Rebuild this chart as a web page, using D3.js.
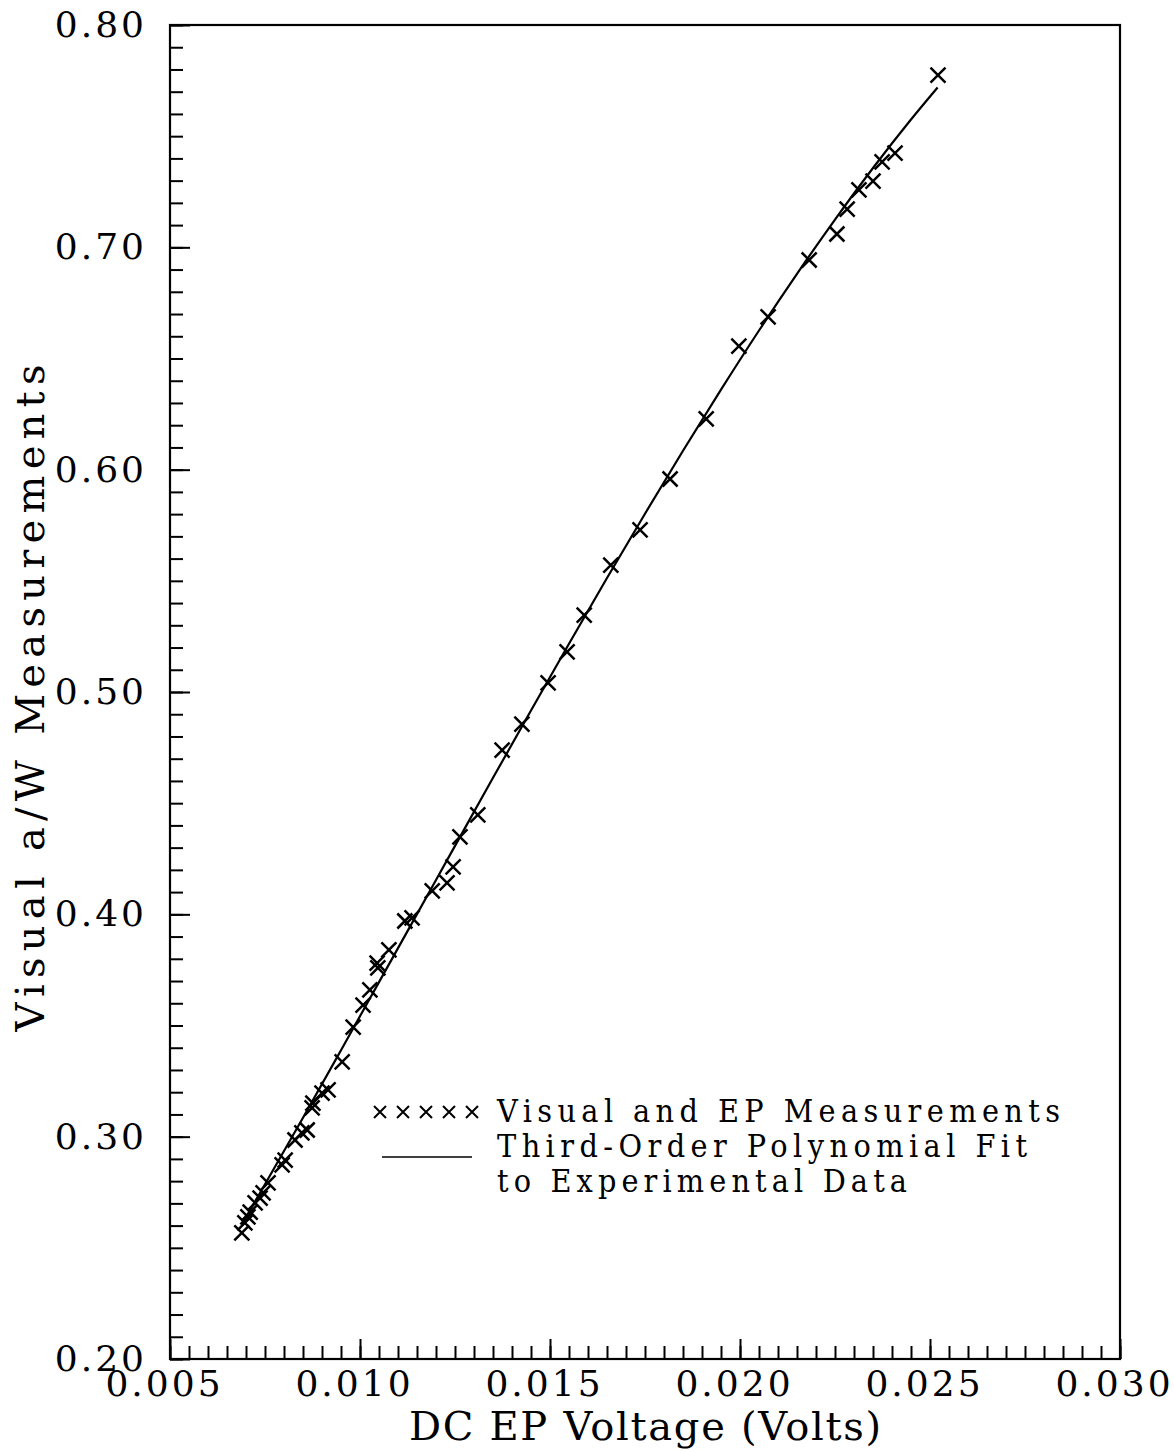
<!DOCTYPE html>
<html>
<head>
<meta charset="utf-8">
<script src="https://cdn.jsdelivr.net/npm/d3@7"></script>
<style>
  body { margin: 0; background: #fff; }
  svg { display: block; }
</style>
</head>
<body>
<svg id="chart" width="1174" height="1451"></svg>
<script>
// Measured points: DC EP voltage (V) vs. visual crack length ratio a/W
const voltage = [
  0.00689, 0.00697, 0.00705, 0.00711, 0.00724, 0.00737, 0.00745, 0.00758,
  0.00795, 0.00803, 0.00829, 0.00847, 0.00861, 0.00874, 0.00876, 0.00900,
  0.00916, 0.00953, 0.00982, 0.01008, 0.01026, 0.01045, 0.01047, 0.01076,
  0.01118, 0.01137, 0.01190, 0.01229, 0.01245, 0.01263, 0.01310, 0.01374,
  0.01426, 0.01495, 0.01545, 0.01590, 0.01660, 0.01737, 0.01816, 0.01911,
  0.01997, 0.02074, 0.02182, 0.02255, 0.02282, 0.02313, 0.02350, 0.02374,
  0.02408, 0.02521
];
const aOverW = [
  0.2567, 0.2612, 0.2639, 0.2661, 0.2702, 0.2724, 0.2747, 0.2792,
  0.2873, 0.2895, 0.2985, 0.3017, 0.3030, 0.3129, 0.3151, 0.3196,
  0.3210, 0.3336, 0.3493, 0.3592, 0.3660, 0.3781, 0.3759, 0.3840,
  0.3970, 0.3984, 0.4105, 0.4141, 0.4213, 0.4348, 0.4447, 0.4739,
  0.4856, 0.5041, 0.5180, 0.5346, 0.5571, 0.5729, 0.5958, 0.6228,
  0.6556, 0.6687, 0.6943, 0.7060, 0.7172, 0.7258, 0.7298, 0.7384,
  0.7424, 0.7775
];

// Third-order polynomial fit curve, sampled along the voltage range
const fitVoltage = [
  0.0069, 0.0075, 0.0085, 0.0095, 0.0105, 0.0115, 0.0125, 0.0135, 0.0145,
  0.0155, 0.0165, 0.0175, 0.0185, 0.0195, 0.0205, 0.0215, 0.0225, 0.0235,
  0.0245, 0.0252
];
const fitAOverW = [
  0.2608, 0.2786, 0.3085, 0.3389, 0.3695, 0.4001, 0.4308, 0.4614, 0.4917,
  0.5217, 0.5513, 0.5802, 0.6085, 0.6360, 0.6626, 0.6881, 0.7125, 0.7357,
  0.7575, 0.7719
];

const xMajorTicks = [0.005, 0.010, 0.015, 0.020, 0.025, 0.030];
const yMajorTicks = [0.20, 0.30, 0.40, 0.50, 0.60, 0.70, 0.80];
const legendLabels = [
  "Visual and EP Measurements",
  "Third-Order Polynomial Fit",
  "to Experimental Data"
];

const serif = "'DejaVu Serif', 'Liberation Serif', serif";
const condensedSerif = "'DejaVu Serif Condensed', 'DejaVu Serif', serif";

const svg = d3.select("#chart");

const plot = { left: 170, right: 1120, top: 25, bottom: 1359 };

const x = d3.scaleLinear().domain([0.005, 0.030]).range([plot.left, plot.right]);
const y = d3.scaleLinear().domain([0.20, 0.80]).range([plot.bottom, plot.top]);

// Frame
svg.append("rect")
  .attr("x", plot.left).attr("y", plot.top)
  .attr("width", plot.right - plot.left).attr("height", plot.bottom - plot.top)
  .attr("fill", "none").attr("stroke", "#000").attr("stroke-width", 2.2);

function styleAxis(g) {
  g.select(".domain").remove();
  g.selectAll(".tick line").attr("stroke", "#000").attr("stroke-width", 2);
  g.attr("font-family", serif).attr("font-size", 36);
  g.selectAll(".tick text").attr("fill", "#000").attr("letter-spacing", "3px");
}

// Bottom axis: minor and major ticks pointing inward
svg.append("g")
  .attr("transform", `translate(0,${plot.bottom})`)
  .call(d3.axisBottom(x).tickValues(x.ticks(50)).tickSize(-13).tickFormat(""))
  .call(styleAxis);

svg.append("g")
  .attr("transform", `translate(0,${plot.bottom})`)
  .call(d3.axisBottom(x).tickValues(xMajorTicks).tickSize(-20).tickPadding(11)
        .tickFormat(d3.format(".3f")))
  .call(styleAxis)
  .call(g => g.selectAll(".tick text").attr("dx", -6));

// Left axis
svg.append("g")
  .attr("transform", `translate(${plot.left},0)`)
  .call(d3.axisLeft(y).tickValues(y.ticks(60)).tickSize(-13).tickFormat(""))
  .call(styleAxis);

svg.append("g")
  .attr("transform", `translate(${plot.left},0)`)
  .call(d3.axisLeft(y).tickValues(yMajorTicks).tickSize(-20).tickPadding(23)
        .tickFormat(d3.format(".2f")))
  .call(styleAxis);

// Fit curve
const line = d3.line()
  .x((d, i) => x(fitVoltage[i]))
  .y((d, i) => y(fitAOverW[i]))
  .curve(d3.curveMonotoneX);

svg.append("path")
  .datum(fitVoltage)
  .attr("d", line)
  .attr("fill", "none")
  .attr("stroke", "#000")
  .attr("stroke-width", 2.2);

// Cross markers
const cross = r => `M${-r},${-r}L${r},${r}M${-r},${r}L${r},${-r}`;

svg.append("g")
  .selectAll("path")
  .data(voltage)
  .join("path")
  .attr("transform", (d, i) => `translate(${x(d)},${y(aOverW[i])})`)
  .attr("d", cross(7.5))
  .attr("fill", "none")
  .attr("stroke", "#000")
  .attr("stroke-width", 2.5);

// Axis titles
svg.append("text")
  .attr("x", (plot.left + plot.right) / 2)
  .attr("y", 1440)
  .attr("text-anchor", "middle")
  .attr("font-family", serif)
  .attr("font-size", 40)
  .attr("textLength", 472)
  .attr("lengthAdjust", "spacing")
  .text("DC EP Voltage (Volts)");

svg.append("text")
  .attr("transform", "translate(44,698) rotate(-90)")
  .attr("text-anchor", "middle")
  .attr("font-family", serif)
  .attr("font-size", 40)
  .attr("textLength", 667)
  .attr("lengthAdjust", "spacing")
  .text("Visual a/W Measurements");

// Legend
const legend = svg.append("g");

legend.append("g")
  .selectAll("path")
  .data(d3.range(5))
  .join("path")
  .attr("transform", i => `translate(${380 + i * 23},1112)`)
  .attr("d", cross(6))
  .attr("fill", "none")
  .attr("stroke", "#000")
  .attr("stroke-width", 2);

legend.append("line")
  .attr("x1", 382).attr("x2", 472)
  .attr("y1", 1157).attr("y2", 1157)
  .attr("stroke", "#000")
  .attr("stroke-width", 1.6);

const legendWidths = [563, 530, 410];
legend.selectAll("text")
  .data(legendLabels)
  .join("text")
  .attr("x", 497)
  .attr("y", (d, i) => 1122 + i * 35)
  .attr("font-family", condensedSerif)
  .attr("font-size", 32)
  .attr("textLength", (d, i) => legendWidths[i])
  .attr("lengthAdjust", "spacing")
  .text(d => d);
</script>
</body>
</html>
